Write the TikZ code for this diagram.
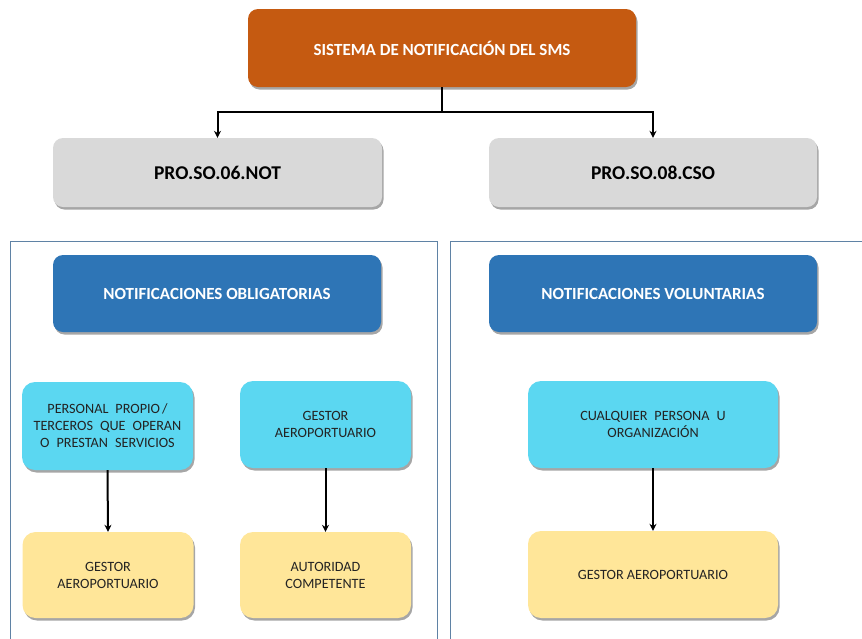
\documentclass[tikz,border=0pt]{standalone}
\usepackage{fontspec}
\setmainfont{Carlito}
\usetikzlibrary{shadows,arrows.meta}
\definecolor{orangeT}{RGB}{197,90,17}
\definecolor{grayB}{RGB}{217,217,217}
\definecolor{blueB}{RGB}{46,117,182}
\definecolor{cyanB}{RGB}{91,215,241}
\definecolor{yellowB}{RGB}{255,230,153}
\definecolor{frameC}{RGB}{95,130,165}
\definecolor{txtC}{RGB}{35,35,35}
\newcommand\myWideSpacing{\spaceskip=7pt\relax}
\tikzset{
  box/.style={rounded corners=10pt, inner sep=0pt, align=center,
    drop shadow={shadow xshift=1.5pt, shadow yshift=-2.5pt, opacity=0.35, fill=black}},
  topbox/.style={box, fill=orangeT, text=white, font=\bfseries\fontsize{17}{20}\selectfont,
    minimum width=388pt, minimum height=78pt},
  procbox/.style={box, fill=grayB, text=black, font=\bfseries\fontsize{19.5}{22}\selectfont,
    minimum width=329pt, minimum height=69pt},
  typebox/.style={box, fill=blueB, text=white, font=\bfseries\fontsize{17}{20}\selectfont,
    minimum width=328pt, minimum height=77pt},
  srcbox/.style={box, rounded corners=13pt, fill=cyanB, text=txtC,
    font=\fontsize{14.2}{17}\selectfont,
    minimum width=171pt, minimum height=87pt},
  dstbox/.style={box, rounded corners=13pt, fill=yellowB, text=txtC, font=\fontsize{14.2}{17}\selectfont,
    minimum width=171pt, minimum height=86pt},
  conn/.style={line width=2pt, -{Stealth[length=7pt,width=7pt]}},
  panel/.style={draw=frameC, line width=0.9pt}
}
\begin{document}
\begin{tikzpicture}[x=1pt,y=-1pt]
\useasboundingbox (0,0) rectangle (862,638);
\clip (0,0) rectangle (862,638);
\fill[white] (0,0) rectangle (862,638);
% panels
\draw[panel] (10,241) rectangle (437,660);
\draw[panel] (450,241) rectangle (880,660);
% nodes
\node[topbox] (top) at (442,48) {SISTEMA DE NOTIFICACIÓN DEL SMS};
\node[procbox] (pnot) at (217.5,172.5) {PRO.SO.06.NOT};
\node[procbox, minimum width=328pt] (pcso) at (653,172.5) {PRO.SO.08.CSO};
\node[typebox] (obl) at (217,293.5) {NOTIFICACIONES OBLIGATORIAS};
\node[typebox] (vol) at (653,293.5) {NOTIFICACIONES VOLUNTARIAS};
\node[srcbox, minimum height=88pt] (s1) at (107.5,426) {\myWideSpacing PERSONAL PROPIO\hspace{2pt}/\\\myWideSpacing TERCEROS QUE OPERAN\\\myWideSpacing O PRESTAN SERVICIOS};
\node[srcbox] (s2) at (325.5,424.5) {GESTOR\\AEROPORTUARIO};
\node[srcbox, minimum width=250pt] (s3) at (653,424.5) {\myWideSpacing CUALQUIER PERSONA U\\ORGANIZACIÓN};
\node[dstbox] (d1) at (108,575) {GESTOR\\AEROPORTUARIO};
\node[dstbox] (d2) at (325.5,575) {AUTORIDAD\\COMPETENTE};
\node[dstbox, minimum width=250pt, minimum height=87pt] (d3) at (653,574.5) {GESTOR AEROPORTUARIO};
% connectors
\coordinate (j) at (442,112);
\draw[line width=2pt] (top.south) -- (j);
\draw[conn] (j) -| (pnot.north);
\draw[conn] (j) -| (pcso.north);
\draw[conn] (s1.south) -- (d1.north);
\draw[conn] (s2.south) -- (d2.north);
\draw[conn] (s3.south) -- (d3.north);
\end{tikzpicture}
\end{document}
